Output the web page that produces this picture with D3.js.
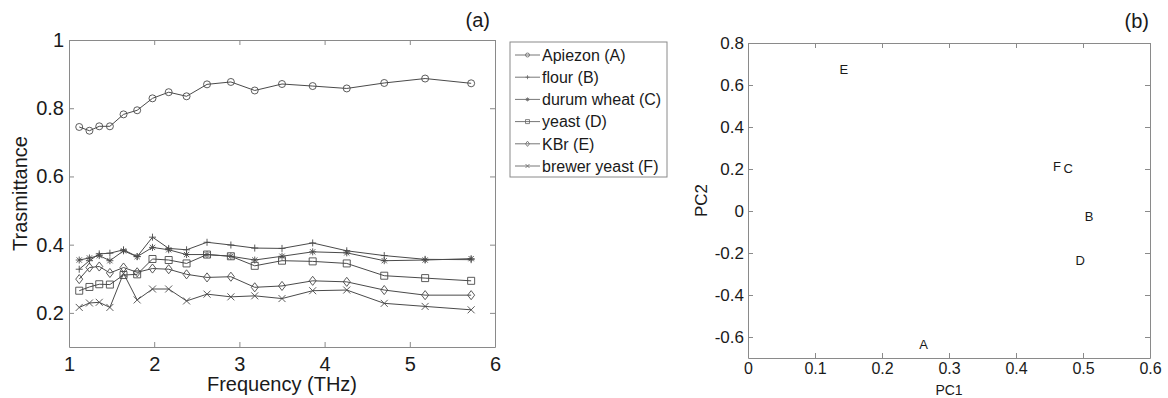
<!DOCTYPE html>
<html>
<head>
<meta charset="utf-8">
<script src="https://cdn.jsdelivr.net/npm/d3@7"></script>
<style>
html,body{margin:0;padding:0;background:#fff;}
svg{display:block;font-family:"Liberation Sans",Arial,Helvetica,sans-serif;}
</style>
</head>
<body>
<svg id="chart" width="1168" height="398"></svg>
<script>
// ---------- data ----------
const freq = [1.12,1.24,1.355,1.48,1.64,1.80,1.98,2.17,2.38,2.62,2.90,3.18,3.50,3.86,4.26,4.70,5.18,5.72];
const apiezon = [0.745,0.734,0.747,0.747,0.782,0.794,0.829,0.847,0.835,0.870,0.877,0.852,0.871,0.865,0.858,0.874,0.887,0.873];
const flour = [0.328,0.353,0.373,0.375,0.385,0.365,0.422,0.389,0.385,0.407,0.399,0.390,0.389,0.405,0.382,0.368,0.357,0.356];
const durumWheat = [0.355,0.361,0.368,0.353,0.382,0.365,0.392,0.385,0.371,0.371,0.366,0.355,0.366,0.379,0.376,0.353,0.355,0.359];
const yeast = [0.265,0.276,0.284,0.283,0.311,0.313,0.358,0.355,0.345,0.371,0.366,0.338,0.353,0.351,0.345,0.309,0.302,0.294];
const kbr = [0.299,0.333,0.336,0.317,0.333,0.319,0.330,0.328,0.313,0.304,0.306,0.275,0.279,0.294,0.291,0.267,0.252,0.252];
const brewerYeast = [0.216,0.229,0.231,0.216,0.316,0.238,0.270,0.270,0.235,0.255,0.247,0.250,0.242,0.265,0.267,0.228,0.219,0.209];
const seriesNames = ["Apiezon (A)","flour (B)","durum wheat (C)","yeast (D)","KBr (E)","brewer yeast (F)"];
const seriesMarkers = ["circle","plus","star","square","diamond","cross"];

const freqTicks = [1,2,3,4,5,6];
const freqTickLabels = ["1","2","3","4","5","6"];
const transTicks = [0.2,0.4,0.6,0.8,1];
const transTickLabels = ["0.2","0.4","0.6","0.8","1"];

const pcLabels = ["A","B","C","D","E","F"];
const pc1 = [0.262,0.509,0.478,0.496,0.143,0.461];
const pc2 = [-0.637,-0.025,0.203,-0.233,0.677,0.215];
const pc1Ticks = [0,0.1,0.2,0.3,0.4,0.5,0.6];
const pc1TickLabels = ["0","0.1","0.2","0.3","0.4","0.5","0.6"];
const pc2Ticks = [-0.6,-0.4,-0.2,0,0.2,0.4,0.6,0.8];
const pc2TickLabels = ["-0.6","-0.4","-0.2","0","0.2","0.4","0.6","0.8"];

const seriesValues = [apiezon, flour, durumWheat, yeast, kbr, brewerYeast];

// ---------- setup ----------
const svg = d3.select("#chart");
const axisColor = "#8a8a8a";
const lineColor = "#4a4a4a";
const textColor = "#1a1a1a";

function styleAxis(g, fontSize){
  g.selectAll(".domain").attr("stroke", axisColor).attr("stroke-width",1);
  g.selectAll(".tick line").attr("stroke", axisColor);
  g.selectAll(".tick text").attr("fill", textColor).style("font-size", fontSize+"px")
    .style("font-family",'"Liberation Sans",Arial,sans-serif');
}

function markerPath(type, s){
  const h = s/2;
  switch(type){
    case "circle": return d3.symbol(d3.symbolCircle, Math.PI*h*h)();
    case "square": return `M${-h},${-h}H${h}V${h}H${-h}Z`;
    case "diamond": return `M0,${-h*1.3}L${h},0L0,${h*1.3}L${-h},0Z`;
    case "plus": return `M${-h},0H${h}M0,${-h}V${h}`;
    case "cross": return `M${-h},${-h}L${h},${h}M${-h},${h}L${h},${-h}`;
    case "star": {
      const d = h*0.75;
      return `M${-h},0H${h}M0,${-h}V${h}M${-d},${-d}L${d},${d}M${-d},${d}L${d},${-d}`;
    }
  }
}

// ---------- panel (a) ----------
const A = {left:69, right:495, top:40, bottom:347};
const xA = d3.scaleLinear().domain([1,6]).range([A.left, A.right]);
const yA = d3.scaleLinear().domain([0.1,1]).range([A.bottom, A.top]);

const gA = svg.append("g");
const axB = gA.append("g").attr("transform",`translate(0,${A.bottom})`)
  .call(d3.axisBottom(xA).tickValues(freqTicks).tickFormat((d,i)=>freqTickLabels[i]).tickSize(-5).tickSizeOuter(0).tickPadding(10));
styleAxis(axB, 20);
const axT = gA.append("g").attr("transform",`translate(0,${A.top})`)
  .call(d3.axisTop(xA).tickValues(freqTicks).tickFormat("").tickSize(-5).tickSizeOuter(0));
styleAxis(axT, 20);
const axL = gA.append("g").attr("transform",`translate(${A.left},0)`)
  .call(d3.axisLeft(yA).tickValues(transTicks).tickFormat((d,i)=>transTickLabels[i]).tickSize(-5).tickSizeOuter(0).tickPadding(5));
styleAxis(axL, 20);
const axR = gA.append("g").attr("transform",`translate(${A.right},0)`)
  .call(d3.axisRight(yA).tickValues(transTicks).tickFormat("").tickSize(-5).tickSizeOuter(0));
styleAxis(axR, 20);

const line = d3.line().x((d,i)=>xA(freq[i])).y(d=>yA(d));
seriesValues.forEach((vals, si)=>{
  gA.append("path").datum(vals).attr("d", line).attr("fill","none")
    .attr("stroke", lineColor).attr("stroke-width",1);
  gA.append("g").selectAll("path").data(vals).join("path")
    .attr("transform",(d,i)=>`translate(${xA(freq[i])},${yA(d)})`)
    .attr("d", markerPath(seriesMarkers[si], 7))
    .attr("fill","none").attr("stroke", lineColor).attr("stroke-width",0.9);
});

gA.append("text").attr("x", (A.left+A.right)/2).attr("y", 391).attr("text-anchor","middle")
  .attr("fill",textColor).style("font-size","20px").text("Frequency (THz)");
gA.append("text").attr("transform",`translate(27,${(A.top+A.bottom)/2}) rotate(-90)`).attr("text-anchor","middle")
  .attr("fill",textColor).style("font-size","20px").text("Trasmittance");
gA.append("text").attr("x", 490).attr("y", 27).attr("text-anchor","end")
  .attr("fill",textColor).style("font-size","20px").text("(a)");

// ---------- legend ----------
const L = {x:510, y:42, w:157, h:135};
const gL = svg.append("g");
gL.append("rect").attr("x",L.x).attr("y",L.y).attr("width",L.w).attr("height",L.h)
  .attr("fill","#fff").attr("stroke",axisColor).attr("stroke-width",1);
const legendY = d3.scaleLinear().domain([0,5]).range([55,166]);
seriesNames.forEach((name, si)=>{
  const yy = legendY(si);
  gL.append("line").attr("x1",515).attr("x2",540).attr("y1",yy).attr("y2",yy)
    .attr("stroke","#777").attr("stroke-width",1);
  gL.append("path").attr("transform",`translate(527.5,${yy})`).attr("d", markerPath(seriesMarkers[si],4))
    .attr("fill","none").attr("stroke","#666").attr("stroke-width",0.8);
  gL.append("text").attr("x",542).attr("y",yy).attr("dy","0.36em")
    .attr("fill",textColor).style("font-size","16px").text(name);
});

// ---------- panel (b) ----------
const B = {left:748, right:1150, top:43, bottom:358};
const xB = d3.scaleLinear().domain([0,0.6]).range([B.left, B.right]);
const yB = d3.scaleLinear().domain([-0.7,0.8]).range([B.bottom, B.top]);
const gB = svg.append("g");
const bB = gB.append("g").attr("transform",`translate(0,${B.bottom})`)
  .call(d3.axisBottom(xB).tickValues(pc1Ticks).tickFormat((d,i)=>pc1TickLabels[i]).tickSize(-5).tickSizeOuter(0).tickPadding(5));
styleAxis(bB, 16);
const bT = gB.append("g").attr("transform",`translate(0,${B.top})`)
  .call(d3.axisTop(xB).tickValues(pc1Ticks).tickFormat("").tickSize(-5).tickSizeOuter(0));
styleAxis(bT, 16);
const bL = gB.append("g").attr("transform",`translate(${B.left},0)`)
  .call(d3.axisLeft(yB).tickValues(pc2Ticks).tickFormat((d,i)=>pc2TickLabels[i]).tickSize(-5).tickSizeOuter(0).tickPadding(4));
styleAxis(bL, 17);
const bR = gB.append("g").attr("transform",`translate(${B.right},0)`)
  .call(d3.axisRight(yB).tickValues(pc2Ticks).tickFormat("").tickSize(-5).tickSizeOuter(0));
styleAxis(bR, 17);

gB.selectAll("text.pt").data(pcLabels).join("text").attr("class","pt")
  .attr("x",(d,i)=>xB(pc1[i])).attr("y",(d,i)=>yB(pc2[i])).attr("dy","0.36em")
  .attr("text-anchor","middle").attr("fill",textColor).style("font-size","13px").text(d=>d);

gB.append("text").attr("x",(B.left+B.right)/2).attr("y",395).attr("text-anchor","middle")
  .attr("fill",textColor).style("font-size","14px").text("PC1");
gB.append("text").attr("transform",`translate(707,${(B.top+B.bottom)/2}) rotate(-90)`).attr("text-anchor","middle")
  .attr("fill",textColor).style("font-size","17px").text("PC2");
gB.append("text").attr("x",1149).attr("y",28).attr("text-anchor","end")
  .attr("fill",textColor).style("font-size","20px").text("(b)");
</script>
</body>
</html>
